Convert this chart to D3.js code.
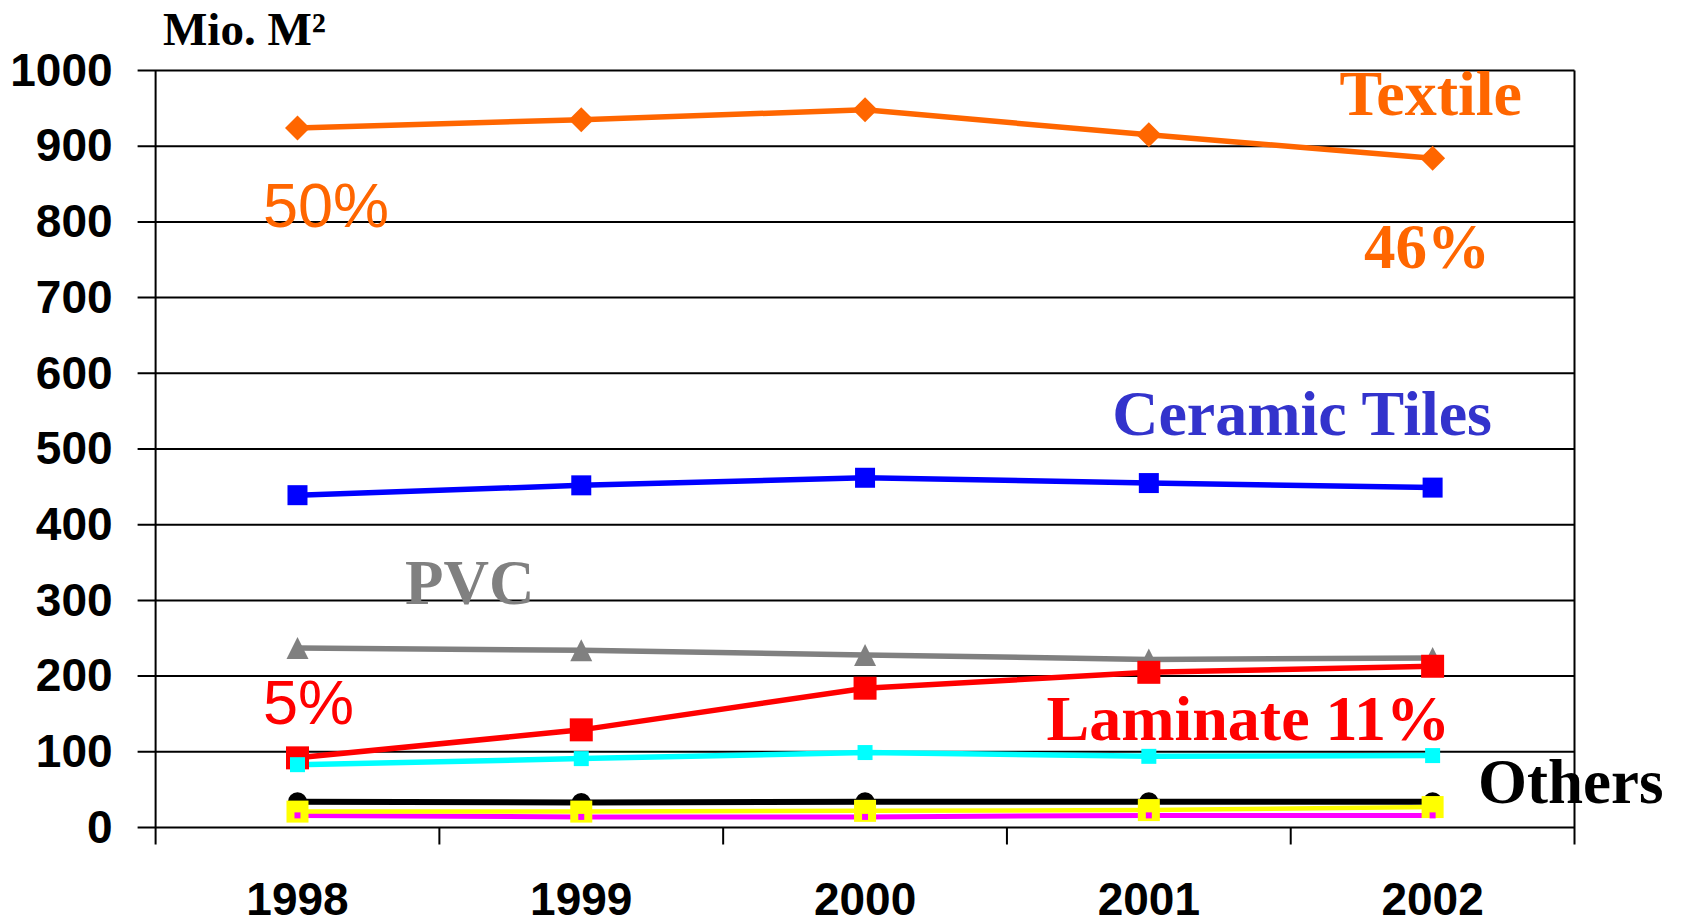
<!DOCTYPE html>
<html>
<head>
<meta charset="utf-8">
<script src="https://cdn.jsdelivr.net/npm/d3@7"></script>
<style>
  body { margin: 0; background: #fff; }
</style>
</head>
<body>
<div id="chart"></div>
<script>
var w = 1683;
var h = 922;

var years = ["1998", "1999", "2000", "2001", "2002"];
var yTicks = [0, 100, 200, 300, 400, 500, 600, 700, 800, 900, 1000];

var textile = [924, 935, 948, 915, 884];
var ceramic = [439, 452, 462, 455, 449];
var pvc = [237, 234, 228, 222, 224];
var laminate = [92, 129, 184, 205, 213];
var cyanSeries = [83, 91, 99, 94, 95];
var blackSeries = [34, 33, 34, 34, 34];
var yellowSeries = [21, 21, 22, 23, 27];
var magentaSeries = [16, 14, 14, 16, 16];

var series = [
  { values: textile, color: "#ff6600", marker: "diamond", size: 25, width: 5.5 },
  { values: ceramic, color: "#0000ff", marker: "square", size: 20, width: 5.5 },
  { values: pvc, color: "#808080", marker: "triangle", size: 22, width: 5.5 },
  { values: laminate, color: "#ff0000", marker: "square", size: 23, width: 5.5 },
  { values: cyanSeries, color: "#00ffff", marker: "square", size: 15, width: 5.5 },
  { values: blackSeries, color: "#000000", marker: "circle", size: 19, width: 6 },
  { values: magentaSeries, color: "#ff00ff", marker: null, size: 0, width: 5 },
  { values: yellowSeries, color: "#ffff00", marker: "square", size: 22, width: 4.5 },
  { values: magentaSeries, color: "#ff00ff", marker: "square", size: 6, width: 0 }
];

var plotLeft = 155.6, plotRight = 1574.5, plotTop = 70.5, plotBottom = 827.5;

var xScale = d3.scaleBand().domain(years).range([plotLeft, plotRight]).padding(0);
var yScale = d3.scaleLinear().domain([0, 1000]).range([plotBottom, plotTop]);

var svg = d3.select("#chart").append("svg").attr("width", w).attr("height", h);

// gridlines
svg.append("g")
  .selectAll("line")
  .data(yTicks)
  .enter()
  .append("line")
  .attr("x1", plotLeft - 18)
  .attr("x2", plotRight)
  .attr("y1", function (d) { return yScale(d); })
  .attr("y2", function (d) { return yScale(d); })
  .attr("stroke", "#000")
  .attr("stroke-width", 2);

// y axis labels
var yAxis = svg.append("g")
  .attr("transform", "translate(" + plotLeft + ",0)")
  .call(d3.axisLeft(yScale).tickValues(yTicks).tickFormat(d3.format("d")).tickSize(18).tickPadding(25));
yAxis.select(".domain").remove();
yAxis.selectAll("line").remove();
yAxis.selectAll("text")
  .attr("font-family", "'Liberation Sans', Arial, sans-serif")
  .attr("font-weight", "bold")
  .attr("font-size", 46)
  .attr("fill", "#000");

// axis frame lines
svg.append("line").attr("x1", plotLeft).attr("x2", plotLeft).attr("y1", plotTop).attr("y2", plotBottom + 17)
  .attr("stroke", "#000").attr("stroke-width", 2);
svg.append("line").attr("x1", plotRight).attr("x2", plotRight).attr("y1", plotTop).attr("y2", plotBottom + 17)
  .attr("stroke", "#000").attr("stroke-width", 2);

// x ticks at band edges
var edges = years.map(function (d) { return xScale(d); });
svg.append("g")
  .selectAll("line")
  .data(edges.slice(1))
  .enter()
  .append("line")
  .attr("x1", function (d) { return d; })
  .attr("x2", function (d) { return d; })
  .attr("y1", plotBottom)
  .attr("y2", plotBottom + 17)
  .attr("stroke", "#000")
  .attr("stroke-width", 2);

var xAxis = svg.append("g")
  .attr("transform", "translate(0," + plotBottom + ")")
  .call(d3.axisBottom(xScale).tickSize(0).tickPadding(55));
xAxis.select(".domain").remove();
xAxis.selectAll("text")
  .attr("font-family", "'Liberation Sans', Arial, sans-serif")
  .attr("font-weight", "bold")
  .attr("font-size", 46)
  .attr("fill", "#000");

var cx = function (d, i) { return xScale(years[i]) + xScale.bandwidth() / 2; };
var line = d3.line()
  .x(function (d, i) { return cx(d, i); })
  .y(function (d) { return yScale(d); });

// lines
svg.append("g")
  .selectAll("path")
  .data(series.filter(function (s) { return s.width > 0; }))
  .enter()
  .append("path")
  .attr("d", function (s) { return line(s.values); })
  .attr("fill", "none")
  .attr("stroke", function (s) { return s.color; })
  .attr("stroke-width", function (s) { return s.width; });

// markers
series.forEach(function (s) {
  if (!s.marker) return;
  var g = svg.append("g");
  g.selectAll("path")
    .data(s.values)
    .enter()
    .append("path")
    .attr("transform", function (d, i) {
      return "translate(" + cx(d, i) + "," + yScale(d) + ")";
    })
    .attr("d", function () {
      var r = s.size / 2;
      if (s.marker === "diamond") {
        return "M0," + (-r) + "L" + r + ",0L0," + r + "L" + (-r) + ",0Z";
      }
      if (s.marker === "square") {
        return "M" + (-r) + "," + (-r) + "h" + s.size + "v" + s.size + "h" + (-s.size) + "Z";
      }
      if (s.marker === "triangle") {
        return "M0," + (-r) + "L" + r + "," + r + "L" + (-r) + "," + r + "Z";
      }
      return d3.symbol().type(d3.symbolCircle).size(Math.PI * r * r)();
    })
    .attr("fill", s.color);
});

// title and annotations
var serif = "'Liberation Serif', 'Times New Roman', serif";
var sans = "'Liberation Sans', Arial, sans-serif";
var labels = [
  { text: "Mio. M²", x: 163, y: 45, size: 47, color: "#000", font: serif, bold: true, anchor: "start" },
  { text: "Textile", x: 1522, y: 115, size: 64, color: "#ff6600", font: serif, bold: true, anchor: "end" },
  { text: "50%", x: 263, y: 227, size: 63, color: "#ff6600", font: sans, bold: false, anchor: "start" },
  { text: "46%", x: 1490, y: 268, size: 63, color: "#ff6600", font: serif, bold: true, anchor: "end" },
  { text: "Ceramic Tiles", x: 1492, y: 435, size: 64, color: "#3333cc", font: serif, bold: true, anchor: "end" },
  { text: "PVC", x: 405, y: 604, size: 63, color: "#808080", font: serif, bold: true, anchor: "start" },
  { text: "5%", x: 263, y: 724, size: 63, color: "#ff0000", font: sans, bold: false, anchor: "start" },
  { text: "Laminate 11%", x: 1450, y: 740, size: 64, color: "#ff0000", font: serif, bold: true, anchor: "end" },
  { text: "Others", x: 1478, y: 803, size: 63, color: "#000", font: serif, bold: true, anchor: "start" }
];

svg.append("g")
  .selectAll("text")
  .data(labels)
  .enter()
  .append("text")
  .attr("x", function (d) { return d.x; })
  .attr("y", function (d) { return d.y; })
  .attr("text-anchor", function (d) { return d.anchor; })
  .attr("font-family", function (d) { return d.font; })
  .attr("font-weight", function (d) { return d.bold ? "bold" : "normal"; })
  .attr("font-size", function (d) { return d.size; })
  .attr("fill", function (d) { return d.color; })
  .text(function (d) { return d.text; });
</script>
</body>
</html>
